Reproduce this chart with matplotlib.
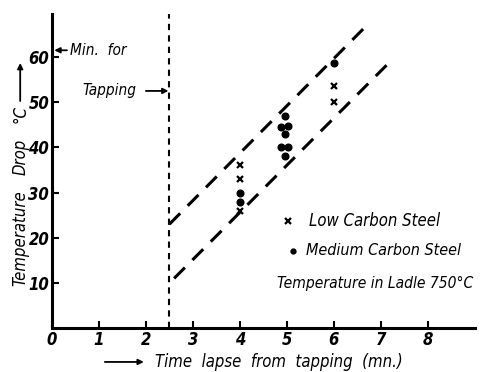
import numpy as np
from matplotlib import pyplot as plt

# datos
low_x = [4, 4, 4, 6, 6]
low_y = [36, 33, 26, 53.5, 50]
med_x = [4, 4, 4.97, 4.88, 5.03, 4.97, 4.88, 5.03, 4.97, 6]
med_y = [30, 28, 47, 44.6, 44.8, 43, 40, 40, 38, 58.7]
upper_x = [2.5, 6.7]
upper_y = [23, 67]
lower_x = [2.6, 7.2]
lower_y = [11, 59]
tapping_x = 2.5
xticks = [0, 1, 2, 3, 4, 5, 6, 7, 8]
yticks = [10, 20, 30, 40, 50, 60]

fig = plt.figure(figsize=(4.81, 3.72), dpi=100)
ax = fig.add_axes([0.108, 0.118, 0.879, 0.844])
fnt = dict(family='DejaVu Sans', style='italic', stretch='condensed')
flecha = dict(arrowstyle='-|>', color='k', lw=1.3, mutation_scale=8, shrinkA=0, shrinkB=0)

ax.plot(upper_x, upper_y, color='k', lw=2.2, dashes=(5, 3.5))
ax.plot(lower_x, lower_y, color='k', lw=2.2, dashes=(5, 3.5))
ax.axvline(tapping_x, color='k', lw=1.5, dashes=(3, 2.5))
ax.plot(low_x, low_y, 'x', color='k', ms=5, mew=1.6)
ax.plot(med_x, med_y, 'o', color='k', ms=4.8)

ax.set_xlim(0, 9)
ax.set_ylim(0, 69.5)
ax.set_xticks(xticks)
ax.set_yticks(yticks)
ax.set_xticklabels([str(t) for t in xticks], fontsize=12, fontweight='bold', **fnt)
ax.set_yticklabels([str(t) for t in yticks], fontsize=12, fontweight='bold', **fnt)
ax.tick_params(direction='in', length=5, width=1.5, pad=2)
for s in ['top', 'right']:
    ax.spines[s].set_visible(False)
for s in ['left', 'bottom']:
    ax.spines[s].set_linewidth(2.2)

# leyenda hecha a mano
ax.plot([5.02], [23.7], 'x', color='k', ms=5, mew=1.6, clip_on=False)
ax.text(5.47, 23.7, 'Low Carbon Steel', fontsize=12, va='center', **fnt)
ax.plot([5.13], [17.1], 'o', color='k', ms=3.5, clip_on=False)
ax.text(5.41, 17.1, 'Medium Carbon Steel', fontsize=11.5, va='center', **fnt)
ax.text(4.78, 9.9, 'Temperature in Ladle 750°C', fontsize=11.2, va='center', **fnt)

# anotaciones
ax.annotate('', xy=(0.05, 61.5), xytext=(0.32, 61.5), arrowprops=flecha)
ax.text(0.38, 61.5, 'Min.  for', fontsize=11, va='center', **fnt)
ax.text(0.64, 52.5, 'Tapping', fontsize=11, va='center', **fnt)
ax.annotate('', xy=(2.48, 52.5), xytext=(2.0, 52.5), arrowprops=flecha)

# etiquetas de los ejes
fig.text(0.322, 0.027, 'Time  lapse  from  tapping  (mn.)', fontsize=12, va='center', **fnt)
ax.annotate('', xy=(0.299, 0.027), xytext=(0.218, 0.027), xycoords='figure fraction',
            textcoords='figure fraction', arrowprops=flecha)
fig.text(0.042, 1 - 238 / 372, 'Temperature', fontsize=12, rotation=90,
         ha='center', va='center', **fnt)
fig.text(0.042, 1 - 157 / 372, 'Drop', fontsize=12, rotation=90,
         ha='center', va='center', **fnt)
fig.text(0.042, 1 - 114 / 372, '°C', fontsize=12, rotation=90,
         ha='center', va='center', **fnt)
ax.annotate('', xy=(0.042, 1 - 63 / 372), xytext=(0.042, 1 - 101 / 372),
            xycoords='figure fraction', textcoords='figure fraction', arrowprops=flecha)

plt.savefig('out.png')
